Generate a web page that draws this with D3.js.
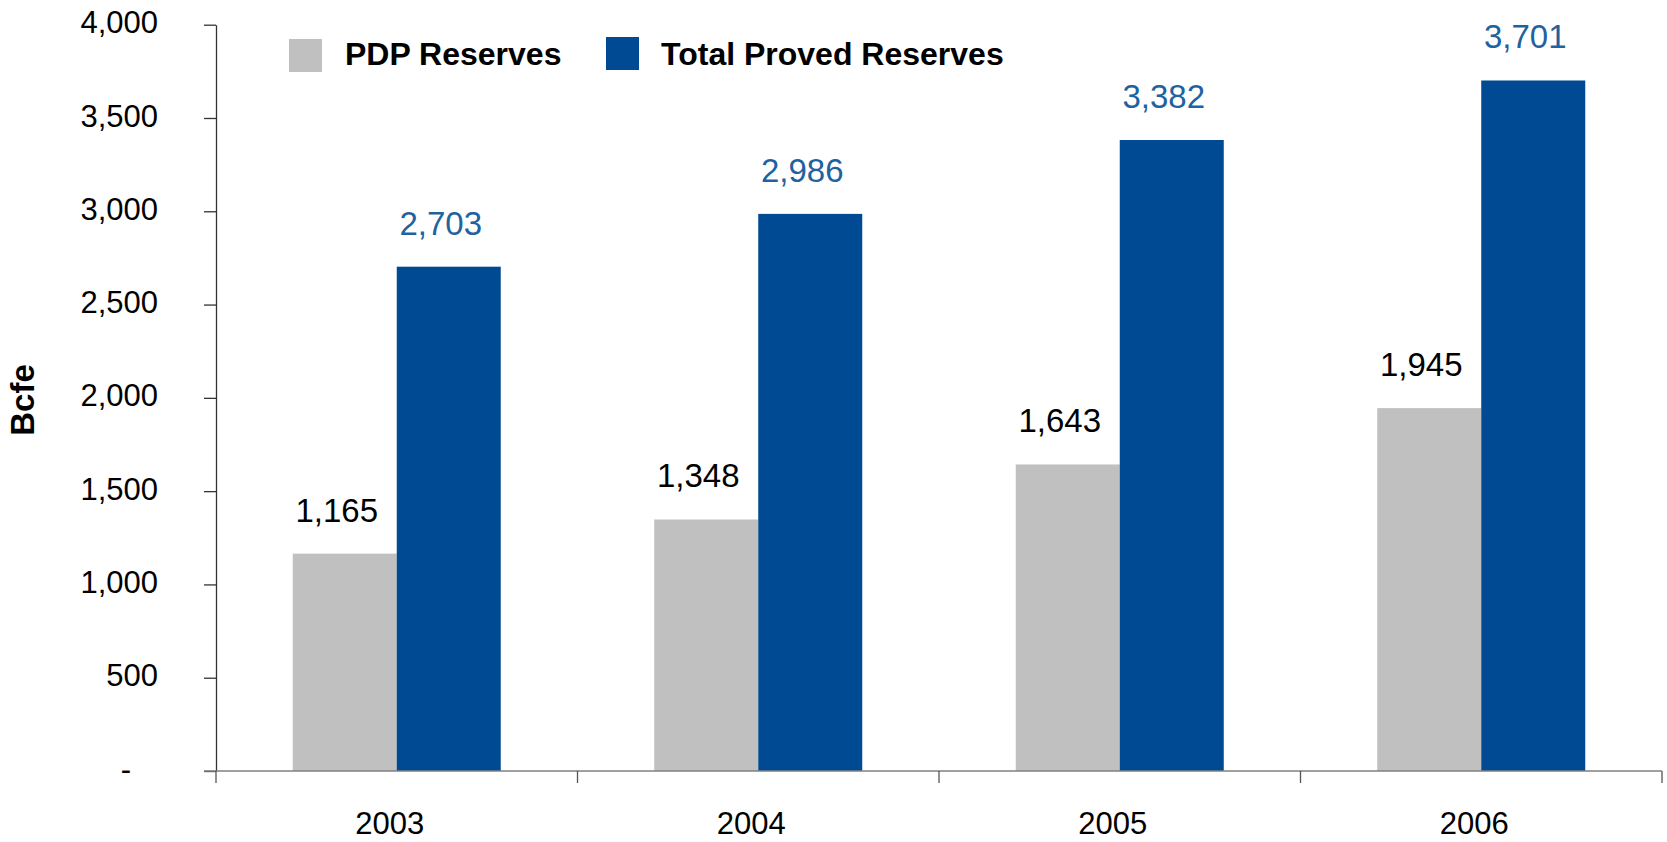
<!DOCTYPE html>
<html>
<head>
<meta charset="utf-8">
<script src="https://cdn.jsdelivr.net/npm/d3@7"></script>
<style>
  html, body { margin: 0; padding: 0; background: #fff; }
  svg { display: block; font-family: "Liberation Sans", Arial, Helvetica, sans-serif; }
</style>
</head>
<body>
<svg id="chart" width="1667" height="842"></svg>
<script>
// Reserves by year, Bcfe
const years = ["2003", "2004", "2005", "2006"];
const seriesNames = ["PDP Reserves", "Total Proved Reserves"];
const pdpReserves = [1165, 1348, 1643, 1945];
const totalProvedReserves = [2703, 2986, 3382, 3701];
const yTicks = [0, 500, 1000, 1500, 2000, 2500, 3000, 3500, 4000];

const seriesValues = [pdpReserves, totalProvedReserves];
const barColors = ["#c0c0c0", "#004a94"];
const labelColors = ["#000000", "#1f62a0"];

const svg = d3.select("#chart");
const plot = { left: 216, right: 1662, top: 24.7, bottom: 771 };

const x = d3.scaleBand().domain(years).range([plot.left, plot.right]).padding(0);
const groupWidth = 208;
const x1 = d3.scaleBand().domain(seriesNames).range([-groupWidth / 2, groupWidth / 2]).padding(0);
const y = d3.scaleLinear().domain([0, 4000]).range([plot.bottom, plot.top]);

const fmt = d3.format(",");

// Bars
const groups = svg.append("g").selectAll("g")
  .data(years)
  .join("g")
  .attr("transform", d => `translate(${x(d) + x.bandwidth() / 2},0)`);

groups.selectAll("rect")
  .data((d, i) => seriesNames.map((s, k) => ({ s, k, v: seriesValues[k][i] })))
  .join("rect")
  .attr("x", d => x1(d.s))
  .attr("width", x1.bandwidth())
  .attr("y", d => y(d.v))
  .attr("height", d => y(0) - y(d.v))
  .attr("fill", d => barColors[d.k]);

// Value labels above each bar
groups.selectAll("text")
  .data((d, i) => seriesNames.map((s, k) => ({ s, k, v: seriesValues[k][i] })))
  .join("text")
  .attr("x", d => x1(d.s) + x1.bandwidth() / 2)
  .attr("y", d => y(d.v) - 32)
  .attr("dx", -8)
  .attr("text-anchor", "middle")
  .attr("font-size", 33)
  .attr("fill", d => labelColors[d.k])
  .text(d => fmt(d.v));

// Y axis
const yAxis = d3.axisLeft(y)
  .tickValues(yTicks)
  .tickSizeInner(12)
  .tickSizeOuter(0)
  .tickPadding(46)
  .tickFormat(d => d === 0 ? "-" : fmt(d));

const gy = svg.append("g")
  .attr("transform", `translate(${plot.left},0)`)
  .call(yAxis);
gy.select(".domain").attr("stroke", "#333").attr("stroke-width", 1.3);
gy.selectAll(".tick line").attr("stroke", "#333").attr("stroke-width", 1.3);
gy.selectAll(".tick text")
  .attr("font-size", 31)
  .attr("font-family", "Liberation Sans, Arial, sans-serif")
  .attr("fill", "#000")
  .attr("dy", "0.26em")
  .attr("dx", d => d === 0 ? -27 : 0);

// X axis: baseline, category labels and group boundary ticks
const xAxis = d3.axisBottom(x).tickSize(0).tickPadding(63);
const gx = svg.append("g")
  .attr("transform", `translate(0,${plot.bottom})`)
  .call(xAxis);
gx.select(".domain").remove();
gx.selectAll(".tick text")
  .attr("font-size", 31)
  .attr("font-family", "Liberation Sans, Arial, sans-serif")
  .attr("fill", "#000")
  .attr("dx", -7)
  .attr("dy", "0");

svg.append("line")
  .attr("x1", plot.left - 12).attr("x2", plot.right)
  .attr("y1", plot.bottom).attr("y2", plot.bottom)
  .attr("stroke", "#808080").attr("stroke-width", 1.5);

const boundaries = years.map(d => x(d)).concat([x.range()[1]]);
svg.append("g").selectAll("line")
  .data(boundaries)
  .join("line")
  .attr("x1", d => d).attr("x2", d => d)
  .attr("y1", plot.bottom).attr("y2", plot.bottom + 12)
  .attr("stroke", "#555").attr("stroke-width", 1.3);

// Y axis title
svg.append("text")
  .attr("transform", `translate(34,400) rotate(-90)`)
  .attr("text-anchor", "middle")
  .attr("font-size", 33)
  .attr("font-weight", "bold")
  .attr("fill", "#000")
  .text("Bcfe");

// Legend
const legendItems = [
  { name: seriesNames[0], color: barColors[0], sx: 289, sy: 39, tx: 345 },
  { name: seriesNames[1], color: barColors[1], sx: 606, sy: 37, tx: 661 }
];
const legend = svg.append("g").selectAll("g").data(legendItems).join("g");
legend.append("rect")
  .attr("x", d => d.sx).attr("y", d => d.sy)
  .attr("width", 33).attr("height", 33)
  .attr("fill", d => d.color);
legend.append("text")
  .attr("x", d => d.tx).attr("y", 65)
  .attr("font-size", 32)
  .attr("font-weight", "bold")
  .attr("fill", "#000")
  .text(d => d.name);
</script>
</body>
</html>
